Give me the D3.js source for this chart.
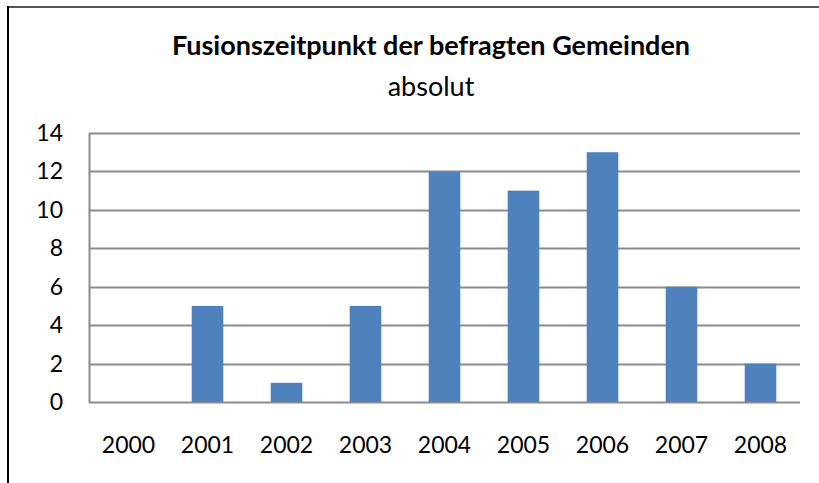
<!DOCTYPE html>
<html>
<head>
<meta charset="utf-8">
<script src="https://cdn.jsdelivr.net/npm/d3@7"></script>
<style>
  body { margin: 0; background: #fff; }
  text { font-family: Lato, "Open Sans", sans-serif; fill: #000; }
</style>
</head>
<body>
<svg id="chart"></svg>
<script>
// data
var years = ["2000", "2001", "2002", "2003", "2004", "2005", "2006", "2007", "2008"];
var counts = [0, 5, 1, 5, 12, 11, 13, 6, 2];
var yTicks = [0, 2, 4, 6, 8, 10, 12, 14];

var svgWidth = 819;
var svgHeight = 483;
var margin = { top: 133, right: 19, bottom: 81, left: 89 };

var svg = d3.select("#chart")
  .attr("width", svgWidth)
  .attr("height", svgHeight);

// outer frame (only top and left edges show)
svg.append("line")
  .attr("x1", 7).attr("x2", svgWidth).attr("y1", 7).attr("y2", 7)
  .attr("stroke", "#555").attr("stroke-width", 2);
svg.append("line")
  .attr("x1", 8).attr("x2", 8).attr("y1", 6).attr("y2", svgHeight)
  .attr("stroke", "#000").attr("stroke-width", 2);

var x = d3.scaleBand()
  .domain(years)
  .range([margin.left, svgWidth - margin.right]);

var y = d3.scaleLinear()
  .domain([0, 14])
  .range([svgHeight - margin.bottom, margin.top]);

// gridlines
svg.selectAll(".grid")
  .data(yTicks)
  .enter()
  .append("line")
  .attr("class", "grid")
  .attr("x1", margin.left)
  .attr("x2", svgWidth - margin.right)
  .attr("y1", function(d) { return Math.round(y(d)) + 0.5; })
  .attr("y2", function(d) { return Math.round(y(d)) + 0.5; })
  .attr("stroke", "#8c8c8c")
  .attr("stroke-width", 2);

// bars, gap width 150%
var barWidth = x.bandwidth() / 2.5;
svg.selectAll("rect.bar")
  .data(counts)
  .enter()
  .append("rect")
  .attr("class", "bar")
  .attr("x", function(d, i) { return x(years[i]) + (x.bandwidth() - barWidth) / 2; })
  .attr("y", function(d) { return y(d); })
  .attr("width", barWidth)
  .attr("height", function(d) { return y(0) - y(d); })
  .attr("fill", "#4f81bd");

// y axis line
svg.append("line")
  .attr("x1", margin.left + 0.5).attr("x2", margin.left + 0.5)
  .attr("y1", y(14)).attr("y2", y(0) + 1)
  .attr("stroke", "#8c8c8c").attr("stroke-width", 2);

// y tick labels
svg.selectAll(".ylab")
  .data(yTicks)
  .enter()
  .append("text")
  .attr("class", "ylab")
  .attr("x", 63)
  .attr("y", function(d) { return y(d) + 8; })
  .attr("text-anchor", "end")
  .style("font-size", "23px")
  .text(function(d) { return d; });

// x labels
svg.selectAll(".xlab")
  .data(years)
  .enter()
  .append("text")
  .attr("class", "xlab")
  .attr("x", function(d) { return x(d) + x.bandwidth() / 2; })
  .attr("y", 453)
  .attr("text-anchor", "middle")
  .style("font-size", "23px")
  .text(function(d) { return d; });

// title
svg.append("text")
  .attr("x", 431)
  .attr("y", 55)
  .attr("text-anchor", "middle")
  .style("font-size", "27px")
  .style("font-weight", "bold")
  .text("Fusionszeitpunkt der befragten Gemeinden");

svg.append("text")
  .attr("x", 431)
  .attr("y", 96)
  .attr("text-anchor", "middle")
  .style("font-size", "27px")
  .text("absolut");
</script>
</body>
</html>
